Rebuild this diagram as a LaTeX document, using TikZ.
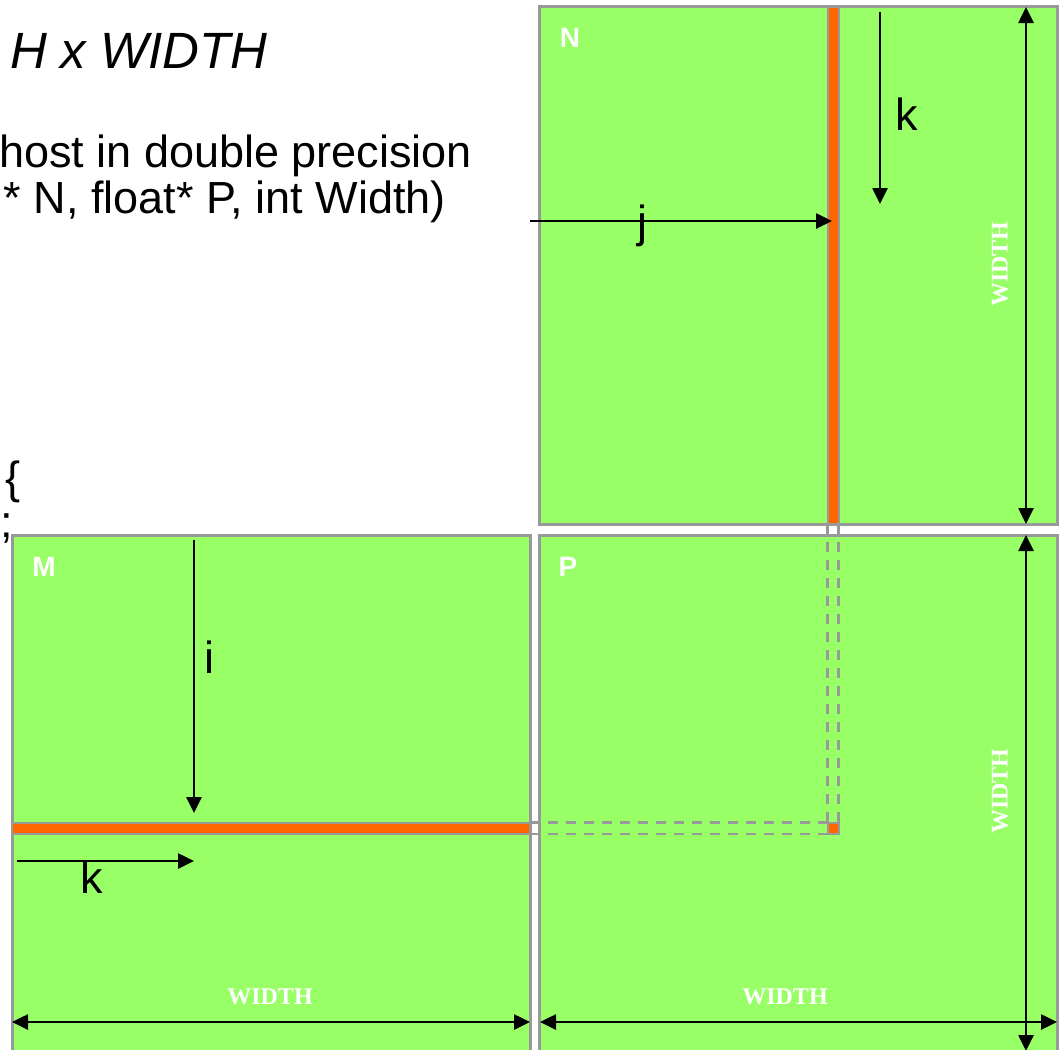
\documentclass[tikz,border=0pt]{standalone}
\usepackage{fontspec}
\setmainfont{Liberation Sans}
\newfontfamily\serifb{Liberation Serif}
\usetikzlibrary{arrows.meta}
\definecolor{mgreen}{HTML}{99FF66}
\definecolor{morange}{HTML}{FF6600}
\definecolor{mgrey}{HTML}{999999}
\begin{document}
\begin{tikzpicture}[x=1pt,y=-1pt,
  mat/.style={fill=mgreen,draw=mgrey,line width=3pt},
  strip/.style={fill=morange,draw=mgrey,line width=2pt},
  guide/.style={draw=mgrey,line width=2.5pt,dash pattern=on 10pt off 8pt},
  arr/.style={line width=2.6pt,-{Triangle[length=16pt,width=15pt]}},
  dim/.style={line width=2.6pt,{Triangle[length=16pt,width=15pt]}-{Triangle[length=16pt,width=15pt]}},
  lbl/.style={font=\fontsize{45}{47}\selectfont,inner sep=0pt},
  ttl/.style={font=\itshape\fontsize{51}{53}\selectfont,inner sep=0pt},
  wlbl/.style={font=\serifb\bfseries\fontsize{24}{26}\selectfont,text=white,inner sep=0pt},
  mlbl/.style={font=\bfseries\fontsize{28}{30}\selectfont,text=white,inner sep=0pt},
]
\useasboundingbox (0,0) rectangle (1061,1050);
\clip (0,0) rectangle (1061,1050);

% text on the left
\node[ttl,anchor=base east] (title) at (268,68) {H x WIDTH};
\node[lbl,anchor=base west] (l1) at (-1,167) {host in double precision};
\node[lbl,anchor=base east] (l2) at (446,213) {* N, float* P, int Width)};
\node[lbl,anchor=base west] (br) at (5,493) {\{};
\node[lbl,anchor=base west] (sc) at (0,537) {;};

% matrices
\draw[mat] (539.5,6.5) rectangle (1057.5,524);
\draw[mat] (12,535) rectangle (530,1070);
\draw[mat] (539.5,535) rectangle (1057.5,1070);

% strips
\draw[strip] (827.5,6.5) rectangle (838.5,524);
\draw[strip] (12,822.5) rectangle (530,834);

% guides
\draw[guide] (827.5,524) -- (827.5,822.5);
\draw[guide] (838.5,524) -- (838.5,822.5);
\draw[guide] (530,822.5) -- (827.5,822.5);
\draw[guide] (530,834) -- (827.5,834);
\draw[strip] (827.5,822.5) rectangle (838.5,834);

% matrix names
\node[mlbl] (Nname) at (570,38) {N};
\node[mlbl] (Mname) at (44,567) {M};
\node[mlbl] (Pname) at (568,567) {P};

% coordinates
\coordinate (kNs) at (880,12);
\coordinate (kNe) at (880,204);
\coordinate (js) at (530,221);
\coordinate (je) at (832,221);
\coordinate (Nt) at (1026,7);
\coordinate (Nb) at (1026,524);
\coordinate (Pt) at (1026,535);
\coordinate (Pb) at (1026,1051);
\coordinate (Mleft) at (12,1022);
\coordinate (Mright) at (530,1022);
\coordinate (Pleft) at (540,1022);
\coordinate (Pright) at (1057,1022);
\coordinate (is) at (194,540);
\coordinate (ie) at (194,813);
\coordinate (kMs) at (17,861);
\coordinate (kMe) at (194,861);

% arrows
\draw[arr] (kNs) -- (kNe);
\node[lbl,anchor=base] (kN) at (907,130) {k};
\draw[arr] (js) -- (je);
\node[lbl,anchor=base] (jl) at (642,237) {j};
\draw[arr] (is) -- (ie);
\node[lbl,anchor=base] (il) at (209,673) {i};
\draw[arr] (kMs) -- (kMe);
\node[lbl,anchor=base] (kM) at (92,893) {k};

\draw[dim] (Nt) -- (Nb);
\draw[dim] (Pt) -- (Pb);
\draw[dim] (Mleft) -- (Mright);
\draw[dim] (Pleft) -- (Pright);

\node[wlbl,rotate=90] (wN) at (1000,264) {WIDTH};
\node[wlbl,rotate=90] (wP) at (1000,791) {WIDTH};
\node[wlbl] (wM) at (270,997) {WIDTH};
\node[wlbl] (wPh) at (785,997) {WIDTH};
\end{tikzpicture}
\end{document}
